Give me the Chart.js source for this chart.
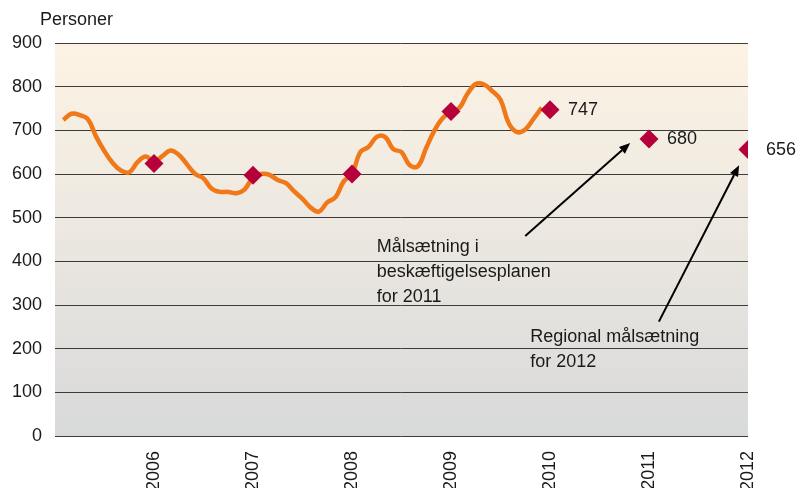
<!DOCTYPE html>
<html>
<head>
<meta charset="utf-8">
<script src="https://cdn.jsdelivr.net/npm/chart.js@4"></script>
<style>
    html, body { margin: 0; padding: 0; background: #ffffff; }
    #wrap { width: 797px; height: 488px; }
</style>
</head>
<body>
<div id="wrap"><canvas id="target-chart"></canvas></div>
<script>
// monthly series, first point is Feb 2005
const lineStartYear = 2005;
const lineStartMonth = 1;
const monthlyValues = [
    724, 738, 735, 725, 685, 652, 625, 608, 604, 627, 640,
    628, 641, 654, 644, 622, 600, 590, 566, 559, 559, 556, 565,
    592, 600, 598, 586, 579, 560, 543, 523, 514, 535, 547, 583,
    600, 650, 662, 685, 685, 657, 650, 620, 618, 660, 700, 728,
    743, 751, 784, 806, 805, 790, 770, 716, 696, 702, 726, 752
];

// yearly markers (January values + targets)
const markerYears = [2006, 2007, 2008, 2009, 2010, 2011, 2012];
const markerValues = [624, 597, 600, 743, 747, 680, 656];
const labelledMarkers = [4, 5, 6];

const yTicks = [0, 100, 200, 300, 400, 500, 600, 700, 800, 900];
const xTickYears = [2006, 2007, 2008, 2009, 2010, 2011, 2012];
const yUnit = "Personer";

const annotationTexts = [
    ["Målsætning i", "beskæftigelsesplanen", "for 2011"],
    ["Regional målsætning", "for 2012"]
];

const FONT = "'Liberation Sans', Arial, sans-serif";
const FONT_SIZE = 18;
const ORANGE = '#f07818';
const MAROON = '#b5003b';

// where notes and arrows sit, in data units
const annotationPlaces = [
    {x: 2008.25, y: 422},
    {x: 2009.80, y: 216}
];
const arrowPlaces = [
    {from: {x: 2009.75, y: 458}, to: {x: 2010.81, y: 671}},
    {from: {x: 2011.10, y: 262}, to: {x: 2011.91, y: 620}}
];

function buildLineData() {
    let out = [];
    for (let i = 0; i < monthlyValues.length; i++) {
        out.push({x: lineStartYear + (lineStartMonth + i) / 12, y: monthlyValues[i]});
    }
    return out;
}

function buildMarkerData() {
    return markerYears.map((yr, i) => ({x: yr, y: markerValues[i]}));
}

const backgroundPlugin = {
    id: 'plotBackground',
    beforeDraw(chart) {
        const {ctx, chartArea: a} = chart;
        const g = ctx.createLinearGradient(0, a.top, 0, a.bottom);
        g.addColorStop(0, '#fdf3e4');
        g.addColorStop(0.5, '#ebe7e0');
        g.addColorStop(1, '#d8d9da');
        ctx.save();
        ctx.fillStyle = g;
        ctx.fillRect(a.left, a.top, a.right - a.left, a.bottom - a.top);
        ctx.restore();
    }
};

function drawArrow(ctx, x1, y1, x2, y2) {
    const ang = Math.atan2(y2 - y1, x2 - x1);
    const len = 11, half = 4.5;
    const bx = x2 - len * Math.cos(ang), by = y2 - len * Math.sin(ang);
    ctx.beginPath();
    ctx.moveTo(x1, y1);
    ctx.lineTo(bx, by);
    ctx.stroke();
    ctx.beginPath();
    ctx.moveTo(x2, y2);
    ctx.lineTo(bx + half * Math.sin(ang), by - half * Math.cos(ang));
    ctx.lineTo(bx - half * Math.sin(ang), by + half * Math.cos(ang));
    ctx.closePath();
    ctx.fill();
}

const notesPlugin = {
    id: 'notes',
    afterDraw(chart) {
        const ctx = chart.ctx;
        const xs = chart.scales.x, ys = chart.scales.y;
        ctx.save();
        ctx.fillStyle = '#1a1a1a';
        ctx.font = FONT_SIZE + 'px ' + FONT;

        // unit over the y axis
        ctx.textAlign = 'left';
        ctx.textBaseline = 'alphabetic';
        ctx.fillText(yUnit, 40, 25);

        // value labels next to the last markers
        const meta = chart.getDatasetMeta(0);
        ctx.textBaseline = 'middle';
        for (const i of labelledMarkers) {
            const pt = meta.data[i];
            ctx.fillText(String(markerValues[i]), pt.x + 18, pt.y);
        }

        // text notes
        ctx.textBaseline = 'alphabetic';
        annotationTexts.forEach((lines, k) => {
            const px = xs.getPixelForValue(annotationPlaces[k].x);
            const py = ys.getPixelForValue(annotationPlaces[k].y);
            lines.forEach((line, j) => ctx.fillText(line, px, py + j * 25));
        });

        // arrows
        ctx.strokeStyle = '#000000';
        ctx.fillStyle = '#000000';
        ctx.lineWidth = 2;
        for (const a of arrowPlaces) {
            drawArrow(ctx,
                xs.getPixelForValue(a.from.x), ys.getPixelForValue(a.from.y),
                xs.getPixelForValue(a.to.x), ys.getPixelForValue(a.to.y));
        }
        ctx.restore();
    }
};

let ctx = document.getElementById("target-chart").getContext('2d');
let chart = new Chart(ctx, {
    type: 'line',
    data: {
        datasets: [{
            label: 'Mål',
            data: buildMarkerData(),
            showLine: false,
            pointStyle: 'rectRot',
            pointRadius: 9.5,
            pointBackgroundColor: MAROON,
            pointBorderColor: MAROON,
            pointBorderWidth: 0
        }, {
            label: yUnit,
            data: buildLineData(),
            borderColor: ORANGE,
            borderWidth: 4.5,
            tension: 0.4,
            pointRadius: 0,
            fill: false
        }]
    },
    options: {
        responsive: true,
        maintainAspectRatio: false,
        animation: false,
        layout: {
            padding: {top: 43, right: 49, bottom: 0, left: 0}
        },
        plugins: {
            legend: {display: false},
            tooltip: {enabled: false}
        },
        scales: {
            x: {
                type: 'linear',
                min: 2005,
                max: 2012,
                afterBuildTicks: (axis) => {
                    axis.ticks = xTickYears.map(v => ({value: v}));
                },
                afterFit: (axis) => {
                    axis.height = 52;
                },
                ticks: {
                    minRotation: 90,
                    maxRotation: 90,
                    padding: 7,
                    color: '#1a1a1a',
                    font: {family: FONT, size: FONT_SIZE},
                    callback: (v) => String(v)
                },
                grid: {display: false},
                border: {display: false}
            },
            y: {
                min: 0,
                max: 900,
                afterBuildTicks: (axis) => {
                    axis.ticks = yTicks.map(v => ({value: v}));
                },
                afterFit: (axis) => {
                    axis.width = 55;
                },
                ticks: {
                    padding: 13,
                    color: '#1a1a1a',
                    font: {family: FONT, size: FONT_SIZE}
                },
                grid: {
                    color: '#3c3c3c',
                    lineWidth: 1,
                    drawTicks: false
                },
                border: {display: false}
            }
        }
    },
    plugins: [backgroundPlugin, notesPlugin]
});
</script>
</body>
</html>
